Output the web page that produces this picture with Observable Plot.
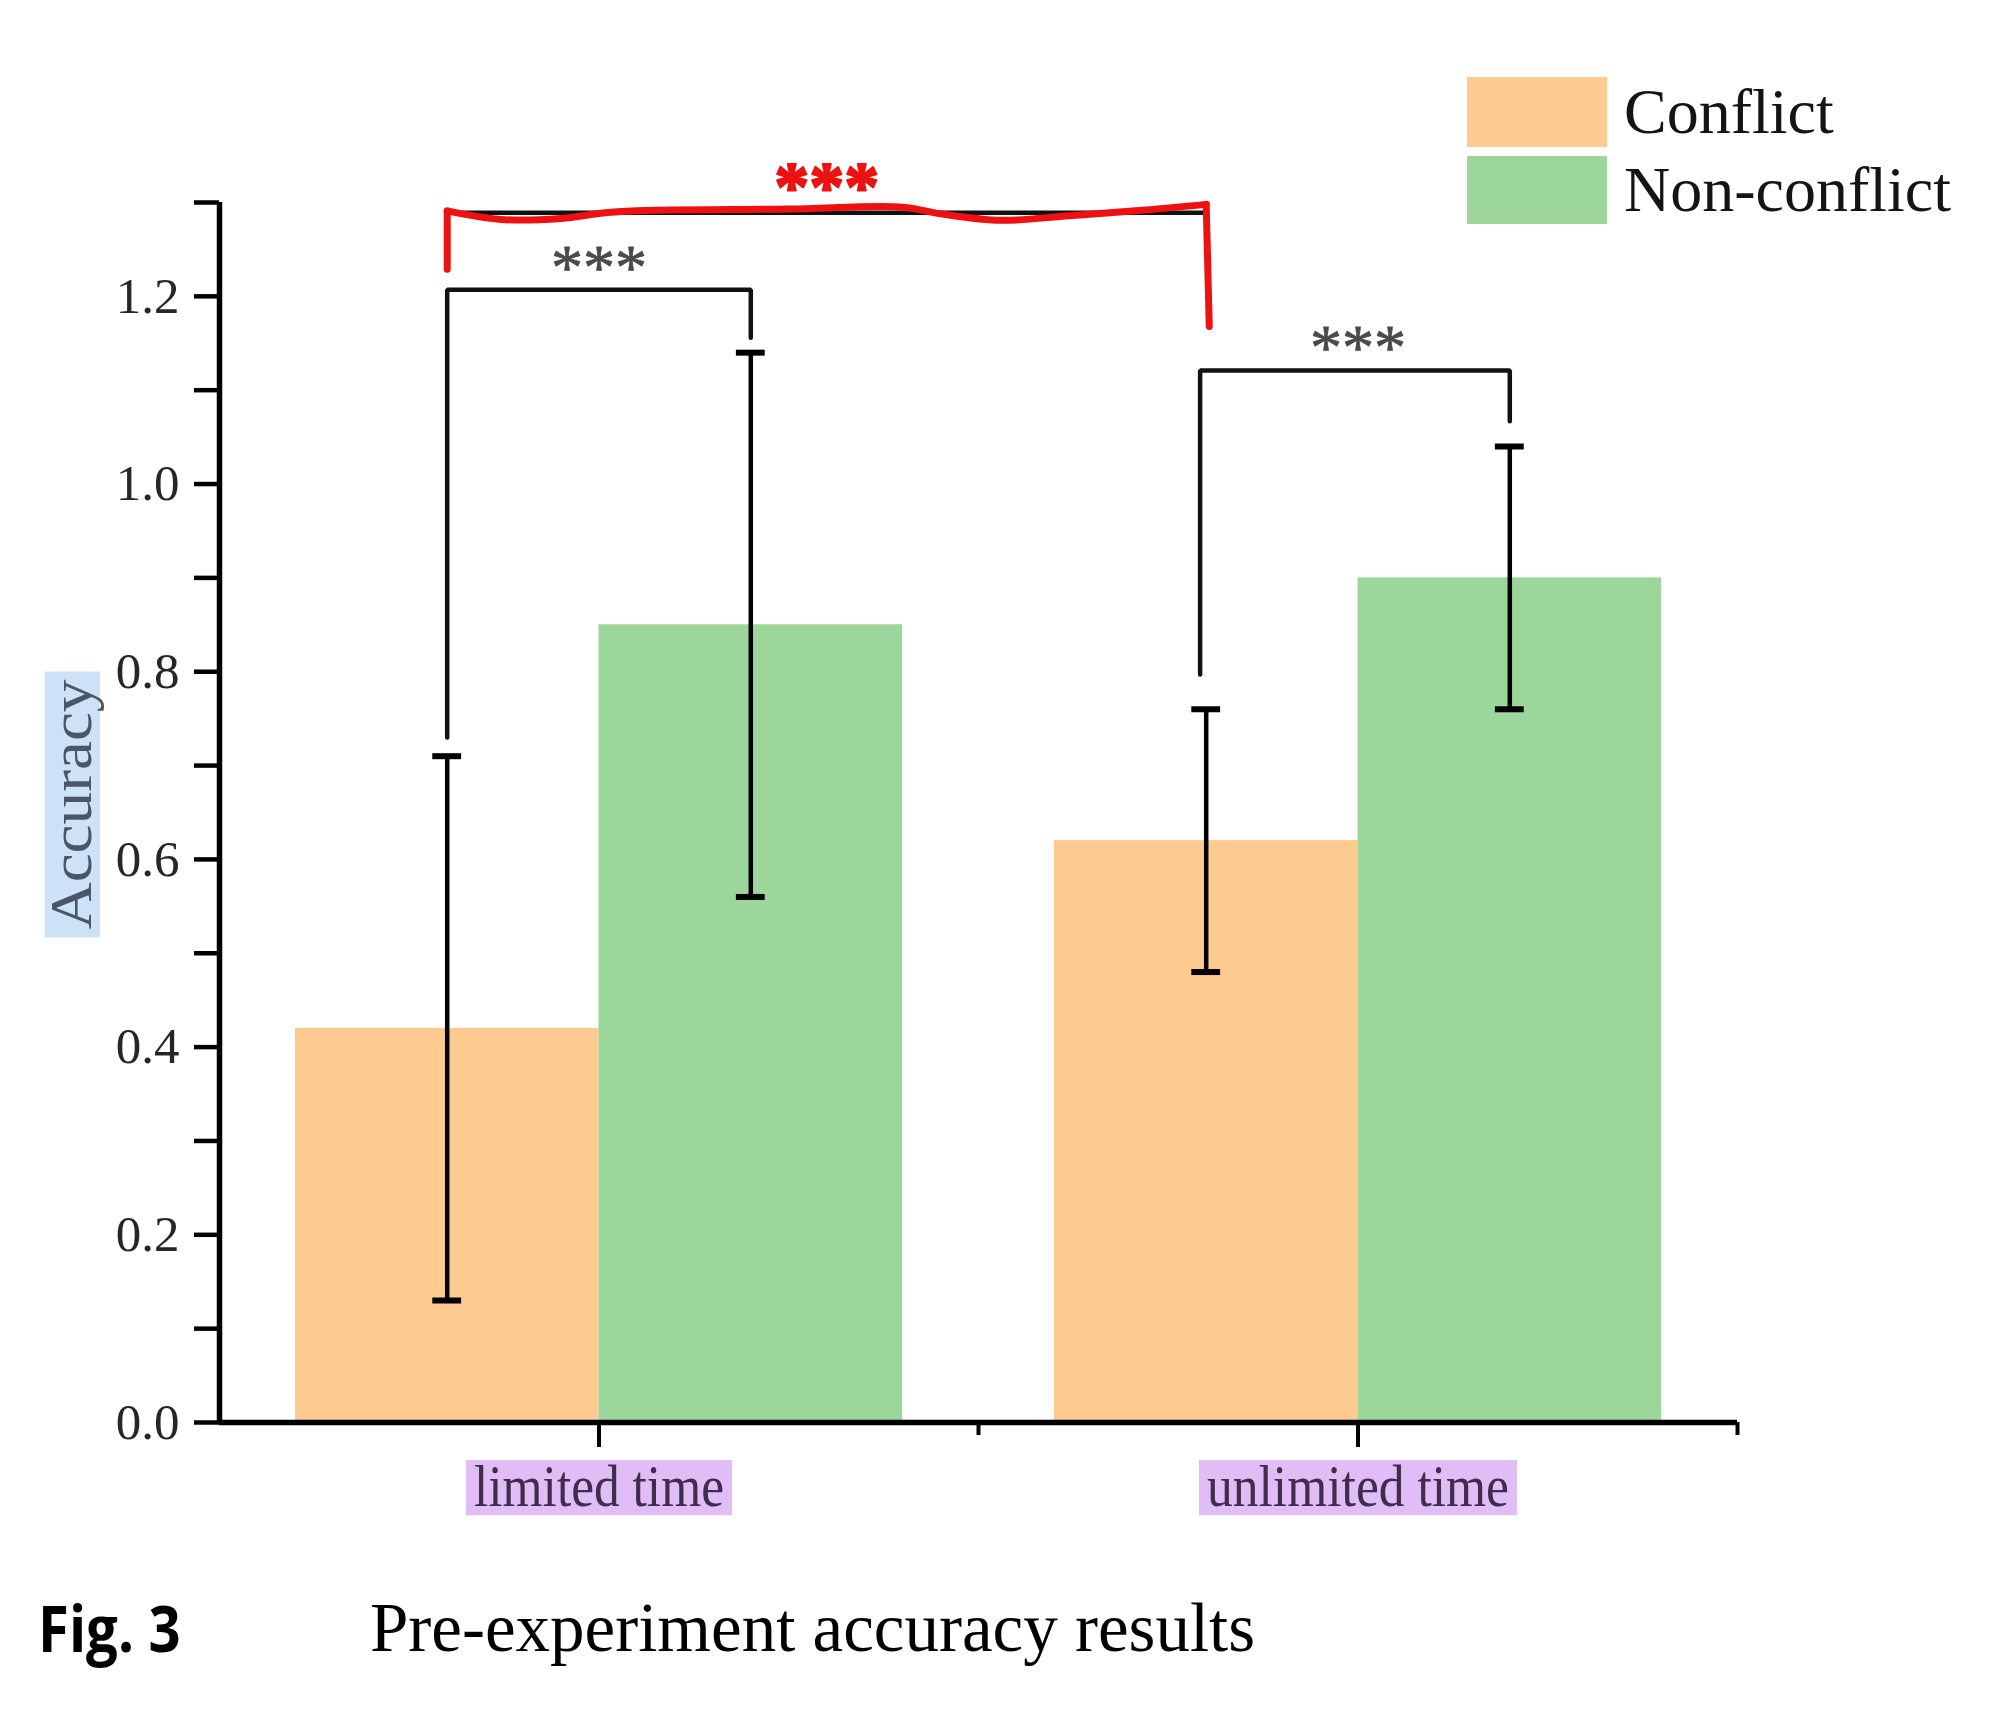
<!DOCTYPE html>
<html><head><meta charset="utf-8">
<script src="https://cdn.jsdelivr.net/npm/d3@7"></script>
<script src="https://cdn.jsdelivr.net/npm/@observablehq/plot@0.6"></script>
<style>
body{margin:0;background:#fff;}
#wrap{position:relative;width:2000px;height:1719px;overflow:hidden;background:#fff;}
#wrap svg{position:absolute;left:0;top:0;}
.sw{position:absolute;left:1467px;width:140px;}
.lt{position:absolute;left:1624px;font-family:"Liberation Serif",serif;font-size:64px;color:#141414;line-height:1;}
#figno{position:absolute;left:38px;top:1596px;font-family:"Open Sans",sans-serif;font-weight:700;font-size:64px;line-height:1;color:#000;transform:scaleX(0.88);transform-origin:left;}
#figtitle{position:absolute;left:370px;top:1594px;font-family:"Liberation Serif",serif;font-size:69px;line-height:1;color:#000;}
</style></head><body>
<div id="wrap"></div>
<script>
// ---- data ----
const groups = ["limited time", "unlimited time"];
const conditions = ["Conflict", "Non-conflict"];
const conflictMean = [0.42, 0.62];
const conflictErr = [0.29, 0.14];
const nonConflictMean = [0.85, 0.90];
const nonConflictErr = [0.29, 0.14];
const colors = ["#fdca8f", "#9cd69b"];
const yTicks = [0, 0.2, 0.4, 0.6, 0.8, 1.0, 1.2];
const yMinorTicks = [0.1, 0.3, 0.5, 0.7, 0.9, 1.1, 1.3];
const yLabel = "Accuracy";
const sigLabel = "***";
// within-group brackets: [group, condition] ends, leg bottoms and bracket top (y values)
const pairBrackets = [
  {g1: 0, c1: 0, g2: 0, c2: 1, low1: 0.73, top: 1.207, low2: 1.156},
  {g1: 1, c1: 0, g2: 1, c2: 1, low1: 0.797, top: 1.121, low2: 1.067}
];
// between-group bracket (limited vs unlimited, Conflict)
const groupBracket = {g1: 0, c1: 0, g2: 1, c2: 0, top: 1.289};
// hand-drawn red overlay: y values along the bracket, at fractions of its span
const redTopT = [0, 0.07, 0.15, 0.22, 0.45, 0.6, 0.65, 0.73, 0.82, 0.92, 1];
const redTopY = [1.291, 1.282, 1.283, 1.290, 1.293, 1.295, 1.288, 1.281, 1.286, 1.292, 1.298];
const redLegLow = [1.229, 1.168];

// ---- layout helpers ----
const barWidth = 0.4;           // share of the group spacing taken by one bar
const capHalf = 0.019;          // half width of error-bar caps
const legShift = -0.008;        // the second bracket's left leg sits just left of its error bar
const center = (g, c) => g + (c - 0.5) * barWidth;

const bars = groups.flatMap((group, gi) => conditions.map((condition, ci) => ({
  group, gi, condition, ci,
  mean: ci === 0 ? conflictMean[gi] : nonConflictMean[gi],
  err: ci === 0 ? conflictErr[gi] : nonConflictErr[gi]
})));

const bracketPts = pairBrackets.flatMap((b, k) => {
  const xa = center(b.g1, b.c1) + (k === 1 ? legShift : 0), xb = center(b.g2, b.c2);
  return [
    {k, x: xa, y: b.low1}, {k, x: xa, y: b.top},
    {k, x: xb, y: b.top}, {k, x: xb, y: b.low2}
  ];
});
const bracketLabels = pairBrackets.map(b => ({x: (center(b.g1, b.c1) + center(b.g2, b.c2)) / 2, y: b.top}));

const gx1 = center(groupBracket.g1, groupBracket.c1), gx2 = center(groupBracket.g2, groupBracket.c2);
const redTop = redTopT.map((t, i) => ({x: gx1 + t * (gx2 - gx1), y: redTopY[i]}));
const redLegs = [
  {k: 0, x: gx1, y: redTopY[0]}, {k: 0, x: gx1, y: redLegLow[0]},
  {k: 1, x: gx2, y: redTopY[redTopY.length - 1]}, {k: 1, x: gx2 + 0.004, y: redLegLow[1]}
];

const serif = "Liberation Serif";

const chart = Plot.plot({
  width: 2000, height: 1560,
  marginLeft: 219, marginRight: 263, marginTop: 202, marginBottom: 138,
  x: {domain: [-0.5, 1.5], axis: null},
  y: {domain: [0, 1.3], axis: null},
  style: {background: "transparent", overflow: "visible"},
  marks: [
    Plot.rect(bars, {x1: d => d.gi + (d.ci - 1) * barWidth, x2: d => d.gi + d.ci * barWidth, y1: 0, y2: "mean", fill: d => colors[d.ci]}),
    // error bars
    Plot.ruleX(bars, {x: d => center(d.gi, d.ci), y1: d => d.mean - d.err, y2: d => d.mean + d.err, stroke: "#000", strokeWidth: 4.5}),
    Plot.ruleY(bars, {y: d => d.mean + d.err, x1: d => center(d.gi, d.ci) - capHalf, x2: d => center(d.gi, d.ci) + capHalf, stroke: "#000", strokeWidth: 6}),
    Plot.ruleY(bars, {y: d => d.mean - d.err, x1: d => center(d.gi, d.ci) - capHalf, x2: d => center(d.gi, d.ci) + capHalf, stroke: "#000", strokeWidth: 6}),
    // significance brackets
    Plot.line(bracketPts, {x: "x", y: "y", z: "k", stroke: "#111", strokeWidth: 4.5, strokeLinejoin: "miter"}),
    Plot.text(bracketLabels, {x: "x", y: d => d.y + 0.023, text: () => sigLabel, fontFamily: serif, fontSize: 64, fill: "#4a4a4a", stroke: "#4a4a4a", strokeWidth: 0.8, lineAnchor: "middle"}),
    Plot.ruleY([groupBracket.top], {x1: gx1, x2: gx2, stroke: "#111", strokeWidth: 4.5}),
    Plot.line(redTop, {x: "x", y: "y", stroke: "#ee1111", strokeWidth: 7, curve: "catmull-rom"}),
    Plot.line(redLegs, {x: "x", y: "y", z: "k", stroke: "#ee1111", strokeWidth: 7, strokeLinecap: "round"}),
    Plot.text([sigLabel], {x: (gx1 + gx2) / 2, y: groupBracket.top + 0.027, text: d => d, fontFamily: serif, fontWeight: "bold", fontSize: 70, fill: "#ee1111", stroke: "#ee1111", strokeWidth: 2, lineAnchor: "middle"}),
    // axes
    Plot.axisY(yTicks, {tickSize: 25, tickPadding: 15, tickFormat: d3.format(".1f"), fontSize: 51, fontFamily: serif, stroke: "#000", strokeWidth: 4.5, fill: "#262626", label: null}),
    Plot.axisY(yMinorTicks, {tickSize: 25, tickFormat: () => "", stroke: "#000", strokeWidth: 4.5, label: null}),
    Plot.axisX([0, 1], {tickSize: 25, tickPadding: 16, tickFormat: i => groups[i], fontSize: 60, fontFamily: serif, stroke: "#000", strokeWidth: 4, fill: "#3e2d4d", label: null}),
    Plot.axisX([0.5, 1.5], {tickSize: 13, tickFormat: () => "", stroke: "#000", strokeWidth: 4, label: null}),
    Plot.ruleX([-0.5], {stroke: "#000", strokeWidth: 5.5}),
    Plot.ruleY([0], {stroke: "#000", strokeWidth: 5.5}),
    Plot.text([yLabel], {frameAnchor: "left", textAnchor: "middle", dx: -148, dy: -8, rotate: -90, text: d => d, fontFamily: serif, fontSize: 60, fill: "#4a5666"})
  ]
});

const wrap = document.getElementById("wrap");
wrap.appendChild(chart);

// label backgrounds
function addBg(textEl, fill, targetLen, fs) {
  if (!textEl.textContent) return;
  if (targetLen) {
    textEl.setAttribute("textLength", targetLen);
    textEl.setAttribute("lengthAdjust", "spacingAndGlyphs");
  }
  const bb = textEl.getBBox();
  const baseline = bb.y + 0.891 * (bb.height / 1.107);
  const r = document.createElementNS("http://www.w3.org/2000/svg", "rect");
  r.setAttribute("x", bb.x - 8);
  r.setAttribute("width", bb.width + 16);
  r.setAttribute("y", baseline - 0.77 * fs);
  r.setAttribute("height", 0.92 * fs);
  r.setAttribute("fill", fill);
  const tr = textEl.getAttribute("transform");
  if (tr) r.setAttribute("transform", tr);
  textEl.parentNode.insertBefore(r, textEl);
}
chart.querySelectorAll("text").forEach(t => {
  const s = t.textContent;
  if (s === groups[0]) addBg(t, "#e0bdf7", 250, 60);
  else if (s === groups[1]) addBg(t, "#e0bdf7", 302, 60);
  else if (s === yLabel) addBg(t, "#cde2f6", 250, 60);
});

// legend and caption (outside the plot's scales)
conditions.forEach((c, i) => {
  const sw = document.createElement("div");
  sw.className = "sw";
  sw.style.top = (i === 0 ? 77 : 156) + "px";
  sw.style.height = (i === 0 ? 70 : 68) + "px";
  sw.style.background = colors[i];
  wrap.appendChild(sw);
  const lt = document.createElement("div");
  lt.className = "lt";
  lt.textContent = c;
  lt.style.top = (i === 0 ? 80 : 158) + "px";
  wrap.appendChild(lt);
});
const fig = document.createElement("div"); fig.id = "figno"; fig.textContent = "Fig. 3"; wrap.appendChild(fig);
const ttl = document.createElement("div"); ttl.id = "figtitle"; ttl.textContent = "Pre-experiment accuracy results"; wrap.appendChild(ttl);
</script>
</body></html>
